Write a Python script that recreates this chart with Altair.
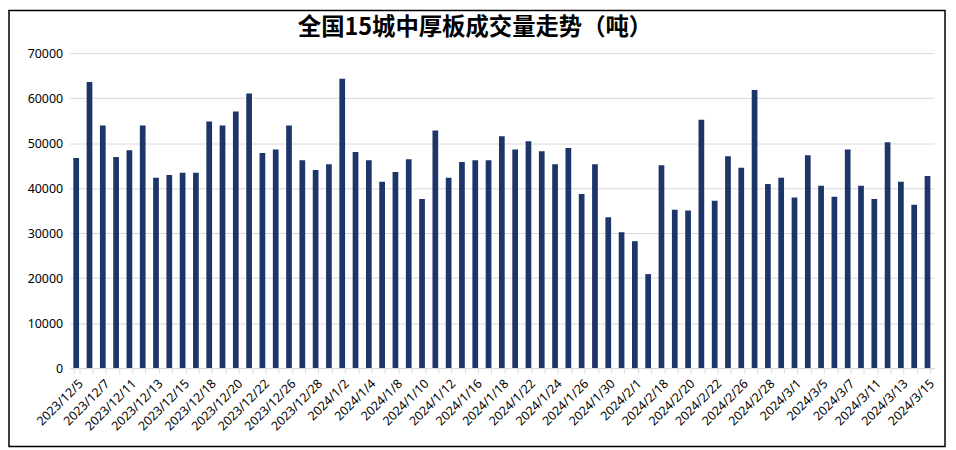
import altair as alt
import pandas as pd

dates = [
    "2023/12/5", "2023/12/6", "2023/12/7", "2023/12/8", "2023/12/11", "2023/12/12",
    "2023/12/13", "2023/12/14", "2023/12/15", "2023/12/17", "2023/12/18", "2023/12/19",
    "2023/12/20", "2023/12/21", "2023/12/22", "2023/12/25", "2023/12/26", "2023/12/27",
    "2023/12/28", "2023/12/29", "2024/1/2", "2024/1/3", "2024/1/4", "2024/1/5",
    "2024/1/8", "2024/1/9", "2024/1/10", "2024/1/11", "2024/1/12", "2024/1/15",
    "2024/1/16", "2024/1/17", "2024/1/18", "2024/1/19", "2024/1/22", "2024/1/23",
    "2024/1/24", "2024/1/25", "2024/1/26", "2024/1/29", "2024/1/30", "2024/1/31",
    "2024/2/1", "2024/2/2", "2024/2/18", "2024/2/19", "2024/2/20", "2024/2/21",
    "2024/2/22", "2024/2/23", "2024/2/26", "2024/2/27", "2024/2/28", "2024/2/29",
    "2024/3/1", "2024/3/4", "2024/3/5", "2024/3/6", "2024/3/7", "2024/3/8",
    "2024/3/11", "2024/3/12", "2024/3/13", "2024/3/14", "2024/3/15",
]

volumes = [
    46700, 63600, 53900, 46900, 48400, 53900, 42300, 42900, 43400, 43400,
    54800, 53900, 57000, 61000, 47800, 48600, 53900, 46200, 44000, 45300,
    64300, 48000, 46200, 41400, 43600, 46400, 37600, 52800, 42300, 45800,
    46200, 46200, 51500, 48600, 50400, 48200, 45300, 48900, 38700, 45300,
    33500, 30200, 28200, 20900, 45100, 35200, 35000, 55200, 37200, 47100,
    44500, 61800, 40900, 42300, 37900, 47300, 40500, 38100, 48600, 40500,
    37600, 50200, 41400, 36300, 42700,
]

# every other date is printed on the axis, as in the source chart
shown_labels = dates[::2]

y_ticks = [0, 10000, 20000, 30000, 40000, 50000, 60000, 70000]

title_text = ["全国15城中厚板成交量走势（吨）"]

df = pd.DataFrame({"date": dates, "volume": volumes})

label_list = "[" + ",".join("'" + s + "'" for s in shown_labels) + "]"

bars = alt.Chart(df).mark_bar(color="#1d3569").encode(
    x=alt.X(
        "date:N",
        sort=dates,
        title=None,
        scale=alt.Scale(paddingInner=0.57, paddingOuter=0.28),
        axis=alt.Axis(
            labelAngle=-45,
            labelExpr=f"indexof({label_list}, datum.value) >= 0 ? datum.label : ''",
            labelOverlap=False,
            labelFont="Noto Sans",
            labelFontSize=12.5,
            labelColor="#000000",
            labelPadding=4,
            domainColor="#d9d9d9",
            domainWidth=1,
            tickColor="#d9d9d9",
            tickSize=5,
            tickBand="extent",
            grid=False,
        ),
    ),
    y=alt.Y(
        "volume:Q",
        title=None,
        scale=alt.Scale(domain=[0, 70000], nice=False),
        axis=alt.Axis(
            values=y_ticks,
            format="d",
            labelFont="Noto Sans",
            labelFontSize=12.5,
            labelColor="#000000",
            labelPadding=7,
            domain=False,
            ticks=False,
            gridColor="#d9d9d9",
            gridWidth=1,
        ),
    ),
)

frame = alt.Chart(pd.DataFrame({"k": [0]})).mark_rect(
    fill=None, stroke="#000000", strokeWidth=1.5
).encode(
    x=alt.value(-61),
    x2=alt.value(881),
    y=alt.value(-43),
    y2=alt.value(396),
)

title = alt.Chart(pd.DataFrame({"t": title_text})).mark_text(
    font="Noto Sans CJK SC",
    fontSize=23.5,
    fontWeight="bold",
    color="#000000",
    align="center",
    baseline="middle",
).encode(
    text="t:N",
    x=alt.value(408),
    y=alt.value(-25),
)

chart = alt.layer(bars, frame, title).properties(
    width=870,
    height=317,
    padding={"left": 62, "top": 44, "right": 14, "bottom": 81},
    autosize=alt.AutoSizeParams(type="none"),
    background="#ffffff",
).configure_view(stroke=None)

chart.save("out.html", embed_options={"renderer": "svg", "actions": False})
